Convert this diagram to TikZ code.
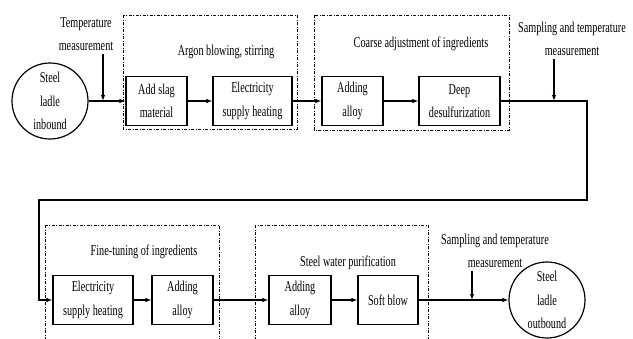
\documentclass[tikz,border=0pt]{standalone}
\usepackage{fontspec}
\setmainfont{Liberation Serif}[FakeStretch=0.68]
\usetikzlibrary{arrows.meta,positioning}

\begin{document}
\begin{tikzpicture}[x=1pt, y=-1pt,
  font=\fontsize{15}{23.5}\selectfont,
  proc/.style={draw, line width=1.2pt, minimum height=49pt, inner sep=0pt, align=center},
  ladle/.style={circle, draw, line width=1.2pt, minimum size=76pt, inner sep=0pt, align=center},
  stage/.style={line width=0.6pt, dash pattern=on 3pt off 1.5pt on 1pt off 1.5pt},
  note/.style={align=center, inner sep=0pt},
  flow/.style={line width=1.1pt, -{Latex[length=6pt,width=4.5pt]}},
]
  \useasboundingbox (0,0) rectangle (633,338);
  \clip (0,0) rectangle (633,338);

  % Stage frames
  \draw[stage] (123,15) rectangle (297,129);
  \draw[stage] (314,15) rectangle (509,130);
  \draw[stage] (45,225) rectangle (219,350);
  \draw[stage] (255,225) rectangle (428,350);

  \node[note] (argon)  at (226,52)  {Argon blowing, stirring};
  \node[note] (coarse) at (421,44)  {Coarse adjustment of ingredients};
  \node[note] (fine)   at (144,252) {Fine-tuning of ingredients};
  \node[note] (purif)  at (348,263) {Steel water purification};

  % Top row
  \node[ladle] (inbound) at (50,101) {Steel\\ladle\\inbound};
  \node[proc, minimum width=61pt] (slag)   at (156.5,101) {Add slag\\material};
  \node[proc, minimum width=79pt] (heat1)  at (252.5,101) {Electricity\\supply heating};
  \node[proc, minimum width=61pt] (alloy1) at (352.5,101) {Adding\\alloy};
  \node[proc, minimum width=81pt] (desulf) at (459.5,101) {Deep\\desulfurization};

  \node[note] (temp)  at (86,34)  {Temperature\\measurement};
  \node[note] (samp1) at (572,39) {Sampling and temperature\\measurement};

  % Bottom row
  \node[proc, minimum width=80pt] (heat2)  at (93,300)    {Electricity\\supply heating};
  \node[proc, minimum width=61pt] (alloy2) at (182.5,300) {Adding\\alloy};
  \node[proc, minimum width=62pt] (alloy3) at (300,300)   {Adding\\alloy};
  \node[proc, minimum width=60pt] (soft)   at (388,300)   {Soft blow};
  \node[ladle] (outbound) at (547,300) {Steel\\ladle\\outbound};

  \node[note] (samp2) at (495,251) {Sampling and temperature\\measurement};

  % Flow
  \coordinate (t1) at (103,101);
  \coordinate (m1) at (554,101);
  \coordinate (m2) at (472,300);
  \coordinate (c1) at (587,200);
  \coordinate (c2) at (39,200);

  \draw[flow] (inbound) -- (slag);
  \draw[flow] (slag) -- (heat1);
  \draw[flow] (heat1) -- (alloy1);
  \draw[flow] (alloy1) -- (desulf);
  \draw[flow] (desulf.east) -| (c1) -- (c2) |- (heat2.west);
  \draw[flow] (heat2) -- (alloy2);
  \draw[flow] (alloy2) -- (alloy3);
  \draw[flow] (alloy3) -- (soft);
  \draw[flow] (soft) -- (outbound);

  \draw[flow] ([yshift=-3pt]temp.south -| t1) -- (t1);
  \draw[flow] ([yshift=-3pt]samp1.south -| m1) -- (m1);
  \draw[flow] ([yshift=-3pt]samp2.south -| m2) -- (m2);
\end{tikzpicture}
\end{document}
